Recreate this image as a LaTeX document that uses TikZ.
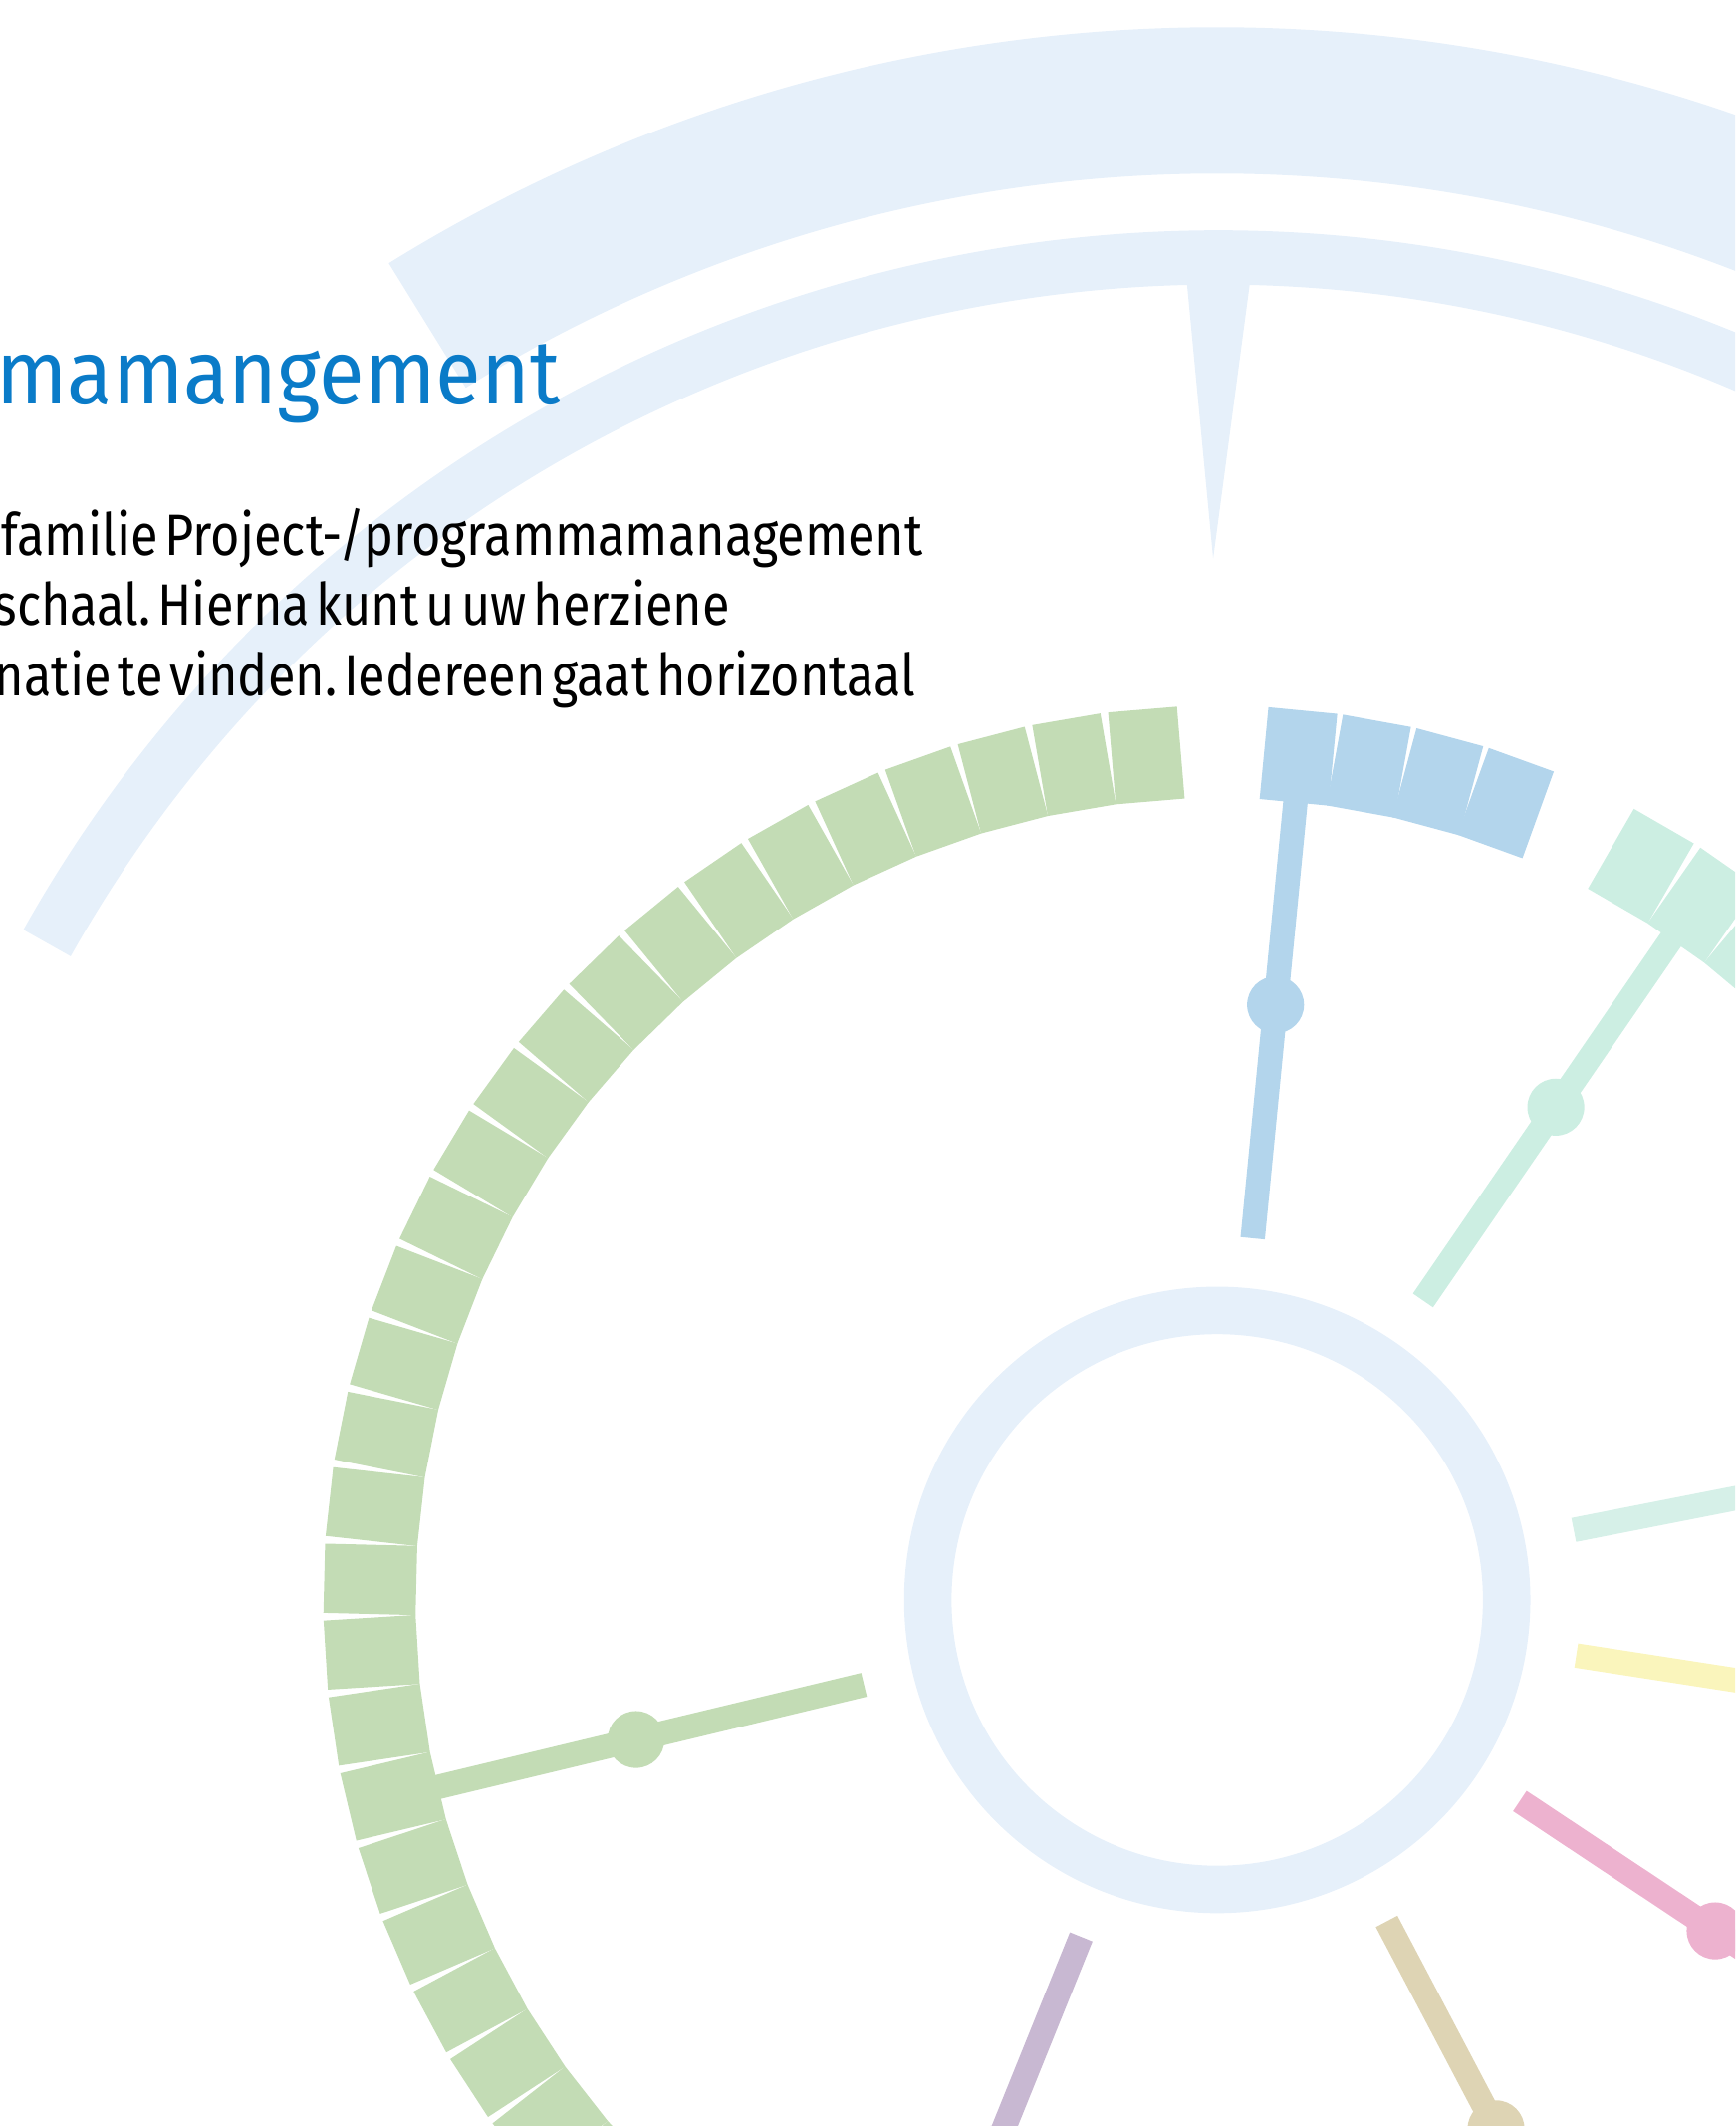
\documentclass[tikz,border=0pt]{standalone}
\usepackage{fontspec}
\setmainfont{Fira Sans}
\frenchspacing
\newcommand\tightwords{\spaceskip=5.8pt\relax}

\definecolor{haze}{HTML}{E6F0FA}
\definecolor{titleblue}{HTML}{0A7BC8}
\definecolor{famgreen}{HTML}{C3DCB5}
\definecolor{famblue}{HTML}{B3D5EC}
\definecolor{fammint}{HTML}{CCEEE2}
\definecolor{famaqua}{HTML}{D6F0E8}
\definecolor{famyellow}{HTML}{FAF5BC}
\definecolor{fampink}{HTML}{EDB2CF}
\definecolor{famtan}{HTML}{DED4B4}
\definecolor{fampurple}{HTML}{C8B8D2}

\begin{document}
\begin{tikzpicture}[x=1pt, y=1pt,
    block/.style = {inner sep=0, minimum width=68pt, minimum height=51pt},
    spoke/.style = {line width=18pt},
    dot/.style   = {circle, inner sep=0, minimum size=42pt},
    body/.style  = {anchor=base west, inner sep=0, font=\fontsize{43}{51}\selectfont\tightwords}]
    \useasboundingbox (-898,-388) rectangle (382,1180);
    \clip (-898,-388) rectangle (382,1180);
    % arcs at the top
    \draw[haze, line width=108pt] (121.8:1106) arc[start angle=121.8, end angle=50, radius=1106];
    \draw[haze, line width=40pt] (150.7:990) arc[start angle=150.7, end angle=20, radius=990];
    \fill[haze] (-23,978) -- (25,978) -- (-3,768) -- cycle;
    % text
    \node[anchor=base west, inner sep=0, text=titleblue, font=\fontsize{67}{80}\selectfont] (title) at (-901,882) {\scalebox{0.915}[1]{mamangement}};
    \node[body] (line1) at (-897,770) {\scalebox{0.862}[1]{familie Project-/programmamanagement}};
    \node[body] (line2) at (-903,718.6) {\scalebox{0.862}[1]{schaal. Hierna kunt u uw herziene}};
    \node[body] (line3) at (-902,667.1) {\scalebox{0.862}[1]{natie te vinden. Iedereen gaat horizontaal}};
    % ring
    \draw[haze, line width=35pt] (0,0) circle[radius=213.5];
    % blocks
    \foreach \k [evaluate=\k as \a using 94.8+(\k-1)*4.93] in {1,...,30}
        \node[block, fill=famgreen, rotate=\a] (g\k) at (\a:625) {};
    \foreach \k [evaluate=\k as \a using 84.5-(\k-1)*4.8] in {1,...,4}
        \node[block, fill=famblue, rotate=\a] (b\k) at (\a:625) {};
    \foreach \k [evaluate=\k as \a using 60-(\k-1)*4.93] in {1,...,6}
        \node[block, fill=fammint, rotate=\a] (m\k) at (\a:625) {};
    % spokes
    \foreach \n/\a/\c in {b/84.4/famblue, m/55.5/fammint, a/11.1/famaqua, y/-8.8/famyellow,
                          p/-33.6/fampink, t/-62.2/famtan, v/-112/fampurple, g/193.5/famgreen} {
        \coordinate (in\n) at (\a:268);
        \coordinate (out\n) at (\a:597);
        \draw[spoke, \c] (in\n) -- (out\n);
        \node[dot, fill=\c] (dot\n) at (\a:441) {};
    }
\end{tikzpicture}
\end{document}
